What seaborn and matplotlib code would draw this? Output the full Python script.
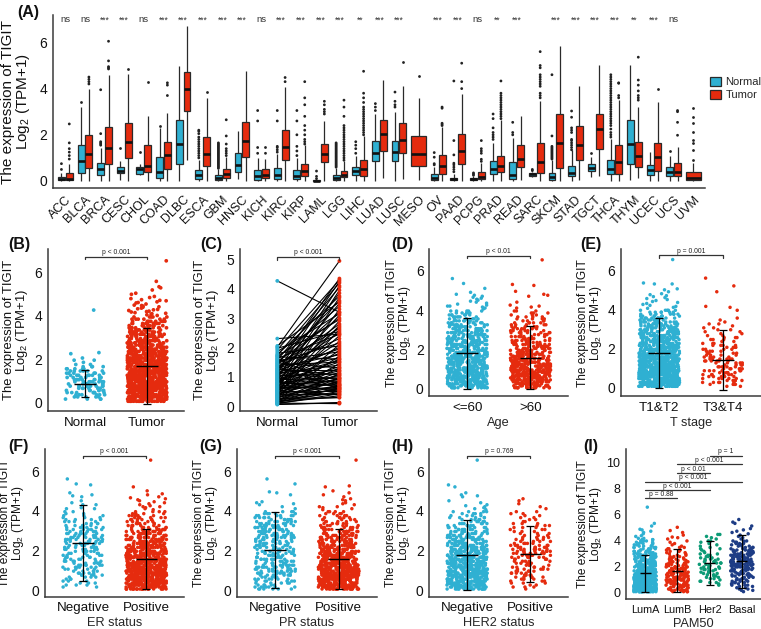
import numpy as np
import pandas as pd
import matplotlib
matplotlib.use("Agg")
import matplotlib.pyplot as plt
import seaborn as sns

sns.set_theme(style="white")
plt.rcParams["font.family"] = ["Liberation Sans", "DejaVu Sans"]
plt.rcParams["mathtext.default"] = "regular"
plt.rcParams["mathtext.fontset"] = "custom"
plt.rcParams["mathtext.rm"] = "Liberation Sans"

BLUE, RED, GREEN, NAVY = "#2FB0D2", "#E52B0E", "#0C9B76", "#1D3C85"
DARK = "#3A3A3A"

cancers = ["ACC","BLCA","BRCA","CESC","CHOL","COAD","DLBC","ESCA","GBM","HNSC","KICH",
           "KIRC","KIRP","LAML","LGG","LIHC","LUAD","LUSC","MESO","OV","PAAD","PCPG",
           "PRAD","READ","SARC","SKCM","STAD","TGCT","THCA","THYM","UCEC","UCS","UVM"]
signif = ["ns","ns","***","***","ns","***","***","***","***","***","ns","***","***","***","***",
          "**","***","***","","***","***","ns","**","***","","***","***","***","***","**","***","ns",""]

# five-number summaries (low whisker, q1, median, q3, high whisker)
normal_box = [
 [0,.03,.1,.17,.35],[0,.33,.87,1.55,3.2],[0,.27,.5,.8,1.45],[.05,.33,.45,.62,.85],[.25,.3,.5,.62,.75],
 [0,.13,.38,1.02,2.3],[0,.73,1.6,2.63,5.0],[0,.08,.25,.47,.9],[0,.03,.12,.25,.5],[.1,.37,.7,1.23,2.15],
 [0,.05,.2,.47,1.0],[0,.1,.25,.57,1.15],[0,.07,.2,.47,1.0],[0,0,.01,.03,.05],[0,.05,.12,.25,.55],
 [0,.25,.43,.62,1.1],[0,.88,1.2,1.72,2.9],[0,.87,1.27,1.73,3.0],None,[0,.04,.12,.29,.6],
 [0,.03,.07,.14,.3],[0,.03,.07,.12,.2],[0,.3,.5,.87,1.63],[0,.1,.26,.84,1.85],[.18,.22,.29,.35,.4],
 [0,.03,.16,.33,.9],[0,.22,.36,.65,1.34],[.19,.43,.55,.72,1.05],[0,.29,.5,.91,1.82],[.04,.75,1.59,2.64,5.03],
 [0,.26,.48,.69,1.27],[0,.22,.38,.62,1.08],None]
tumor_box = [
 [0,.03,.1,.33,.75],[0,.57,1.15,1.97,4.0],[0,.72,1.43,2.33,4.6],[0,1.0,1.68,2.5,4.65],[0,.37,.65,1.55,2.8],
 [0,.5,1.13,1.68,2.95],[.9,3.05,3.97,4.7,6.7],[0,.67,1.17,1.92,3.6],[0,.15,.3,.53,1.05],[0,1.03,1.72,2.57,4.75],
 [0,.12,.27,.53,.95],[0,.92,1.47,2.2,4.05],[0,.2,.43,.75,1.55],[0,.83,1.15,1.6,2.6],[0,.17,.28,.45,.85],
 [0,.22,.5,.93,1.95],[.15,1.32,2.02,2.63,4.37],[.09,1.23,1.78,2.5,4.1],[.04,.66,1.17,1.95,3.58],[0,.3,.65,1.11,2.35],
 [0,.72,1.3,2.04,3.77],[0,.09,.19,.38,.77],[0,.38,.66,1.08,2.64],[.03,.59,.95,1.57,2.82],[0,.36,.84,1.65,3.46],
 [0,.58,1.66,2.89,5.85],[.04,.9,1.56,2.37,4.11],[.22,1.37,2.24,2.89,5.03],[0,.32,.81,1.56,3.5],[.12,.62,1.1,1.7,3.22],
 [0,.45,1.05,1.66,3.4],[0,.2,.4,.79,1.49],[0,.03,.14,.38,.77]]
normal_out = [
 [.5,.75],[3.4],[1.55,1.6,1.65,1.7,2.05,3.95],[1.45],[1.25],[2.4],[],
 [1.0,1.1,1.2,1.3,1.4,1.5,1.6,1.7,1.8,1.9,2.05,2.15,2.2],
 [.55,.6,.65,.7,.75,.8,.85,.9,.95,1.0,1.05,1.1,1.15,1.2,1.25,1.3,1.35,1.4,1.45,1.5,1.55,1.6,1.65],[],
 [1.2,1.45,2.6,3.05],[1.25,1.35,1.45,1.5,2.6,3.05],[1.1,1.3,1.5,2.0,2.6,3.05],[.1,.2,.43],
 [.6,.65,.7,.75,.8,.85,.9,.95,1.0,1.05,1.1,1.15,1.2,1.25,1.3,1.35,1.4,1.45,1.5,1.55,1.6,1.65],
 [1.2,1.4,1.55,1.7],[3.05,3.2,3.35],[3.2,3.3,3.45,3.85],[],[.7,.75,1.03,1.23],
 [.4,.5,.6,.7,.77,1.13,1.75,4.33],[.25,.3,.35],[1.8,1.9,2.0,2.1,2.3,2.7,2.9],[2.0,2.1,2.54],[.45,.5],
 [.95,1.0,1.05,1.1,1.15,1.2,1.25,1.3,1.35,1.4,1.45,1.5,1.95,4.6],
 [1.35,1.45,1.55,1.65,1.75,1.8,2.1,2.2,2.3,2.76,3.03],[1.2],
 [1.9,2.0,2.1,2.25,2.4,2.5,2.6,2.7,2.8,2.9,3.0,3.1,3.2,3.3,3.4,3.5,3.6,3.7,3.8,3.9,4.0,4.1,4.2,4.3,4.4,4.5,4.6],
 [],[],[1.28],[]]
tumor_out = [
 [.95,1.1,1.25,1.4,1.65,2.47],[4.2,4.3,4.4,4.5],[4.85,4.9,4.95,5.2,6.05],[4.85],[4.3],[3.7,4.15,4.25],[],[3.85],
 [1.1,1.2,1.3,1.4,1.6,1.95,2.65],[],[1.2,1.45],[4.3,4.48],[1.6,1.7,1.8,2.0,2.2,2.4,2.8,3.3,3.6,4.3],
 [2.9,3.0,3.1,3.3,3.45],[.9,1.0,1.1,1.2,1.3,1.4,1.5,1.6,1.7,1.8,1.9,2.0,2.1,2.2,2.3,2.4,2.8,3.2,3.5],
 [2.0,2.1,2.2,2.3,2.4,2.5,2.6,2.7,2.8,2.9,3.0,3.1,3.2,3.4,3.6,3.8,4.75],[],[5.15],[4.55],[2.4,2.45,2.5,3.15,3.2],
 [4.0,4.3,5.1],[.85,.94,1.2,1.3,1.4,1.75],
 [2.7,2.8,2.9,3.0,3.1,3.2,3.3,3.4,3.5,3.6,3.7,3.8,4.33],[],
 [3.6,3.7,3.8,4.1,4.2,4.3,4.4,4.5,4.6,4.9,5.0,5.6],[],[],[],[3.6,3.7,4.23,4.25],
 [3.5,3.6,3.7,3.9,4.15,4.37,5.36],[4.0],[1.98,2.54,3.0,3.05],[.91,1.34,1.63,1.78,2.14,2.5,2.79,3.15]]

# histogram counts per 0.1 TPM bin read from each strip, plus individually read sparse tails
bin_width = 0.1
b_normal = [0,4,5,6,7,7,7,8,8,9,8,7,7,6,6,5,4,2,1,2,1,0,1]
b_normal_tail = [2.3,4.27]
b_tumor = [26,34,36,34,34,36,36,38,38,36,36,34,33,32,30,29,28,27,26,25,24,23,22,21,20,19,18,17,16,15,14,14,13,12,11,10,9,8,6,5]
b_tumor_tail = [4.02,4.05,4.08,4.1,4.12,4.15,4.18,4.2,4.22,4.25,4.28,4.3,4.33,4.36,4.4,4.42,4.45,4.48,4.5,4.55,4.6,4.62,4.65,4.7,4.72,4.75,4.8,4.85,4.9,5.0,5.05,5.2,5.3,5.35,5.6,6.55]
d_young = [16,20,20,20,20,22,22,22,22,22,21,21,20,20,20,19,19,19,18,18,17,16,16,15,15,14,14,13,12,12,11,11,10,9,8,7,6,6,5,5]
d_young_tail = [4.05,4.1,4.15,4.2,4.2,4.25,4.3,4.35,4.4,4.45,4.5,4.55,4.6,4.65,4.7,4.75,4.8,4.9,5.1,5.35,5.6]
d_old = [14,18,18,19,20,20,22,22,22,22,20,20,19,19,18,16,15,14,13,12,11,10,10,9,9,8,8,7,7,6,6,6,5,5,4,4,4,3,3,3]
d_old_tail = [4.1,4.15,4.2,4.25,4.4,4.7,4.75,4.8,4.95,5.25,5.3,6.55]
e_early = [26,32,32,30,32,32,34,34,34,33,33,32,32,30,30,28,28,26,26,24,24,22,22,20,20,18,18,16,15,14,13,12,12,11,10,9,8,7,6,5]
e_early_tail = [4.05,4.1,4.15,4.2,4.25,4.3,4.35,4.4,4.45,4.5,4.55,4.6,4.65,4.7,4.75,4.8,4.9,5.0,5.05,5.3,5.3,5.35,6.55]
e_late = [2,4,5,5,5,5,6,6,6,6,6,5,5,6,6,5,4,4,4,4,4,4,3,3,3,3,2,2,2,2,2,1,2,1,1,1]
e_late_tail = [3.95,4.1,4.15,4.9,5.2,5.6]
f_neg = [0,2,3,3,3,3,4,5,5,4,5,6,6,6,6,5,5,5,5,6,6,6,6,7,7,7,7,7,7,6,6,6,5,4,4,4,3,3,2,2]
f_neg_tail = [4.1,4.1,4.15,4.3,4.3,4.4,4.5,4.7,4.75,4.8,4.9,5.3,5.35,5.6]
f_pos = [24,30,30,30,30,30,32,32,32,32,31,29,28,26,25,24,22,21,20,19,18,17,16,15,15,14,13,12,12,11,10,8,7,6,6,6,6,5,5,4]
f_pos_tail = [4.05,4.1,4.15,4.2,4.2,4.25,4.3,4.35,4.4,4.45,4.5,4.55,4.6,4.65,4.7,4.8,4.85,5.0,5.2,6.55]
g_neg = [6,7,5,5,6,6,7,8,9,9,9,9,9,8,8,8,8,8,8,8,8,9,9,9,9,9,9,9,8,8,8,8,8,7,7,6,6,6,5,4]
g_neg_tail = [4.1,4.2,4.3,4.35,4.4,4.45,4.8,4.9,4.95,5.35,5.6]
g_pos = [20,26,26,26,28,28,28,30,30,30,28,26,25,24,23,21,20,19,18,17,16,15,14,13,12,11,10,10,10,9,8,7,6,6,5,5,5,4,4,4]
g_pos_tail = [4.05,4.1,4.15,4.2,4.2,4.3,4.35,4.4,4.5,4.55,4.6,4.7,4.8,4.9,5.0,5.2,5.25,6.55]
h_neg = [16,22,22,22,24,24,24,25,25,25,24,24,23,22,21,20,20,19,18,17,16,15,14,13,12,11,11,10,9,9,8,7,7,6,5,5,5,4,4,4]
h_neg_tail = [4.05,4.1,4.15,4.2,4.25,4.3,4.4,4.5,4.7,4.75,4.8,4.9,5.2,5.3,6.55]
h_pos = [1,3,2,3,3,4,5,5,5,5,5,5,4,5,5,5,6,7,7,8,7,6,6,5,4,4,4,3,3,3,3,3,3,3,2,2,2,2,2,2]
h_pos_tail = [4.1,4.2,4.35,4.5,4.6]
i_luma = [20,26,28,28,26,26,26,24,24,22,20,20,18,17,16,15,14,13,12,11,10,10,9,8,8,7,6,6,5,5,5,4,4,4,4,3,3,3,3,3,3,2]
i_luma_tail = [4.3,4.35,4.5,4.6,4.7,4.8,4.85,5.1,5.3,6.55]
i_lumb = [4,5,5,5,7,7,7,7,8,8,8,8,8,8,7,7,7,7,6,6,5,5,4,4,4,4,3,3,2,2,2,2,2,2,2,1,1,1,1,1]
i_lumb_tail = [4.1,4.2,4.25,4.4,4.6,4.75,5.0]
i_her2 = [0,0,0,0,0,1,1,2,2,1,2,2,2,2,2,3,3,3,3,2,3,2,3,3,2,3,2,2,2,2,1,1,1,2,1,1,1,1,1,2]
i_her2_tail = [4.1,4.2,4.3,4.45,4.45]
i_basal = [1,2,2,2,2,3,3,3,3,3,3,3,4,4,4,4,5,5,5,6,6,6,6,6,6,6,6,5,6,5,5,5,5,4,3,3,3,3,3,3]
i_basal_tail = [4.1,4.2,4.3,4.4,4.5,4.6,4.7,4.8,4.9,5.1,5.3,5.4,5.6]

normal_paired = [
 .05,.06,.08,.1,.1,.12,.13,.15,.17,.18,
 .2,.21,.23,.25,.26,.28,.3,.31,.33,.35,
 .36,.38,.39,.41,.43,.44,.46,.48,.49,.51,
 .53,.54,.56,.58,.6,.61,.63,.65,.66,.68,
 .7,.72,.73,.75,.77,.79,.8,.82,.84,.86,
 .88,.9,.91,.93,.95,.97,.99,1.01,1.03,1.05,
 1.07,1.09,1.11,1.13,1.15,1.17,1.19,1.21,1.23,1.25,
 1.27,1.29,1.31,1.34,1.36,1.38,1.4,1.43,1.45,1.47,
 1.5,1.52,1.55,1.57,1.6,1.62,1.65,1.68,1.7,1.73,
 1.75,1.8,1.86,1.92,1.97,2.01,2.05,2.3,4.27,.52]
tumor_paired = [
 .12,.1,.42,.08,.35,.62,.5,.72,.3,.95,
 1.1,.45,.6,1.45,.28,.85,2.1,.55,1.3,.7,
 1.7,.4,2.6,.95,.65,3.3,1.15,.5,1.9,.8,
 .38,2.4,1.05,.75,3.7,1.35,.6,2.9,.9,1.6,
 .55,1.2,3.95,.85,2.2,1.0,.7,3.1,1.5,.48,
 1.8,.95,2.7,1.25,4.1,.65,1.55,3.5,1.1,2.0,
 .78,2.5,1.4,3.85,1.65,.9,4.25,1.95,1.2,2.8,
 1.05,3.2,1.75,2.3,.58,4.35,1.5,2.65,3.6,1.3,
 2.15,3.0,1.85,4.05,.72,2.45,3.4,1.6,2.95,4.2,
 3.75,2.05,3.15,4.3,2.55,4.95,3.55,2.45,3.2,2.75]

W, H = 761, 629
fig = plt.figure(figsize=(W / 100, H / 100), dpi=100)


def make_axes(left, right, top, bottom, zero_px, px_per_unit):
    ax = fig.add_axes([left / W, 1 - bottom / H, (right - left) / W, (bottom - top) / H])
    ax.set_facecolor("white")
    ax.set_ylim((zero_px - bottom) / px_per_unit, (zero_px - top) / px_per_unit)
    for s in ["top", "right"]:
        ax.spines[s].set_visible(False)
    for s in ["left", "bottom"]:
        ax.spines[s].set_color(DARK)
        ax.spines[s].set_linewidth(1.1)
    ax.tick_params(axis="both", colors=DARK, length=2.5, width=0.9, pad=1.5, labelcolor="#111111")
    ax.grid(False)
    return ax


def ylabel(ax, left, right, text_right, size):
    ax.set_ylabel("The expression of TIGIT\nLog$_2$ (TPM+1)", fontsize=size, color="#111111", linespacing=0.95)
    ax.yaxis.set_label_coords((text_right - left) / (right - left), 0.5)


def expand(counts, tail):
    levels = (np.arange(len(counts)) + 0.5) * bin_width
    return list(np.repeat(levels, counts)) + list(tail)


def strip_panel(ax, names, groups, colors, stats, size, jit, xpad=0.6, tickfs=9.6):
    frame = pd.DataFrame({
        "group": [n for n, g in zip(names, groups) for _ in g],
        "value": [v for g in groups for v in g]})
    sns.stripplot(data=frame, x="group", y="value", hue="group", order=names, hue_order=names,
                  palette=colors, jitter=jit, size=size, linewidth=0, legend=False, ax=ax, zorder=2)
    ax.set_xlim(-xpad, len(names) - 1 + xpad)
    for i, (m, lo, hi) in enumerate(stats):
        ax.errorbar(i, m, yerr=[[m - lo], [hi - m]], color="black", lw=0.9, capsize=3, capthick=0.9, zorder=4)
        ax.hlines(m, i - 0.17, i + 0.17, color="black", lw=1.0, zorder=4)
    ax.set_xlabel("")
    ax.tick_params(axis="x", labelsize=tickfs)


def bracket(ax, x0, x1, y, text, drop=0.12, fs=4.9):
    ax.plot([x0, x0, x1, x1], [y - drop, y, y, y - drop], color="#333333", lw=0.9, clip_on=False, zorder=5)
    ax.text((x0 + x1) / 2, y + 0.03, text, ha="center", va="bottom", fontsize=fs, color="#222222", clip_on=False)


def panel_tag(x, y, tag):
    fig.text(x / W, 1 - y / H, tag, fontsize=11.5, fontweight="bold", va="center", ha="left", color="#111111")


# ---- Panel A
axA = make_axes(53, 705, 15, 188, 181, 23.1)
rows = []
for c, nb, tb in zip(cancers, normal_box, tumor_box):
    if nb is not None:
        rows += [(c, "Normal", v) for v in nb]
        rows += [(c, "Tumor", v) for v in tb]
paired_frame = pd.DataFrame(rows, columns=["cancer", "group", "value"])
solo_frame = pd.DataFrame([(c, "Tumor", v) for c, nb, tb in zip(cancers, normal_box, tumor_box)
                           if nb is None for v in tb], columns=["cancer", "group", "value"])
box_style = dict(whis=(0, 100), showfliers=False, showcaps=False, saturation=1, linewidth=0.9, linecolor="#2A2A2A",
                 medianprops={"linewidth": 1.9, "color": "#111111"})
sns.boxplot(data=paired_frame, x="cancer", y="value", hue="group", order=cancers, hue_order=["Normal", "Tumor"],
            palette=[BLUE, RED], width=0.8, gap=0.12, ax=axA, **box_style)
handles, labels = axA.get_legend_handles_labels()
sns.boxplot(data=solo_frame, x="cancer", y="value", order=cancers, color=RED, width=0.76, ax=axA, **box_style)

out_rows = [(c, "Normal", v) for c, nb, o in zip(cancers, normal_box, normal_out) if nb is not None for v in o]
out_rows += [(c, "Tumor", v) for c, nb, o in zip(cancers, normal_box, tumor_out) if nb is not None for v in o]
sns.stripplot(data=pd.DataFrame(out_rows, columns=["cancer", "group", "value"]), x="cancer", y="value", hue="group",
              order=cancers, hue_order=["Normal", "Tumor"], palette=["#222222", "#222222"], dodge=True, jitter=False,
              size=2.0, linewidth=0, legend=False, ax=axA)
solo_out = [(c, v) for c, nb, o in zip(cancers, normal_box, tumor_out) if nb is None for v in o]
sns.stripplot(data=pd.DataFrame(solo_out, columns=["cancer", "value"]), x="cancer", y="value", order=cancers,
              color="#222222", jitter=False, size=2.0, linewidth=0, ax=axA)
axA.set_xlim(-0.63, 32.6)
axA.set_xlabel("")
axA.set_yticks([0, 2, 4, 6])
axA.tick_params(axis="y", labelsize=10)
axA.tick_params(axis="x", labelsize=9)
for lab in axA.get_xticklabels():
    lab.set_rotation(45)
    lab.set_ha("right")
    lab.set_rotation_mode("anchor")
for i, s in enumerate(signif):
    axA.text(i, 6.97, s, ha="center", va="center", fontsize=6.8 if s == "ns" else 6.2, color="#333333")
ylabel(axA, 53, 705, 32, 11)
leg = axA.legend(handles, labels, loc="center left", bbox_to_anchor=(710 / W, 1 - 88.5 / H),
                 bbox_transform=fig.transFigure, frameon=False, fontsize=8, handlelength=1.0, handleheight=0.9,
                 labelspacing=0.2, handletextpad=0.4, borderpad=0, borderaxespad=0)

# ---- Panel B
axB = make_axes(47.7, 184.3, 249.3, 411, 402.3, 21.6)
strip_panel(axB, ["Normal", "Tumor"],
            [expand(b_normal, b_normal_tail), expand(b_tumor, b_tumor_tail)],
            [BLUE, RED], [(.87, .25, 1.48), (1.67, -.07, 3.43)], 2.7, 0.32)
axB.set_yticks([0, 2, 4, 6])
axB.tick_params(axis="y", labelsize=10)
ylabel(axB, 47.7, 184.3, 30, 9.4)
bracket(axB, 0, 1, 6.75, "p < 0.001")

# ---- Panel C
axC = make_axes(240, 376.7, 249.3, 411, 406, 29.3)
pair_ids = list(range(len(normal_paired)))
pair_frame = pd.DataFrame({"group": ["Normal"] * len(pair_ids) + ["Tumor"] * len(pair_ids),
                           "pos": [0] * len(pair_ids) + [1] * len(pair_ids),
                           "pair": pair_ids + pair_ids,
                           "value": normal_paired + tumor_paired})
sns.lineplot(data=pair_frame, x="pos", y="value", units="pair", estimator=None, color="black", lw=0.8,
             legend=False, ax=axC, zorder=2)
sns.scatterplot(data=pair_frame, x="pos", y="value", hue="group", palette=[BLUE, RED], s=7.5, linewidth=0,
                legend=False, ax=axC, zorder=3)
axC.set_xlim(-0.6, 1.6)
axC.set_xticks([0, 1])
axC.set_xticklabels(["Normal", "Tumor"])
axC.set_xlabel("")
axC.set_yticks([0, 1, 2, 3, 4, 5])
axC.tick_params(axis="y", labelsize=10)
axC.tick_params(axis="x", labelsize=9.6)
ylabel(axC, 240, 376.7, 221, 9.4)
bracket(axC, 0, 1, 5.09, "p < 0.001", drop=0.09)

# ---- Panel D
axD = make_axes(429.3, 568.3, 249.3, 396.3, 388.7, 19.67)
strip_panel(axD, ["<=60", ">60"], [expand(d_young, d_young_tail), expand(d_old, d_old_tail)],
            [BLUE, RED], [(1.8, 0, 3.6), (1.55, -.03, 3.17)], 2.5, 0.32)
axD.set_yticks([0, 2, 4, 6])
axD.tick_params(axis="y", labelsize=10)
axD.set_xlabel("Age", fontsize=9.2, labelpad=2)
ylabel(axD, 429.3, 568.3, 413, 8.6)
bracket(axD, 0, 1, 6.76, "p < 0.01")

# ---- Panel E
axE = make_axes(621, 761, 249.3, 396.3, 387.3, 19.5)
strip_panel(axE, ["T1&T2", "T3&T4"], [expand(e_early, e_early_tail), expand(e_late, e_late_tail)],
            [BLUE, RED], [(1.75, -.02, 3.53), (1.42, -.12, 2.96)], 2.5, 0.32)
axE.set_yticks([0, 2, 4, 6])
axE.tick_params(axis="y", labelsize=10)
axE.set_xlabel("T stage", fontsize=9.2, labelpad=2)
ylabel(axE, 621, 761, 604, 8.6)
bracket(axE, 0, 1, 6.76, "p = 0.001")

# ---- Panel F
axF = make_axes(45, 184.3, 449.3, 596.7, 590, 19.83)
strip_panel(axF, ["Negative", "Positive"], [expand(f_neg, f_neg_tail), expand(f_pos, f_pos_tail)],
            [BLUE, RED], [(2.38, .45, 4.31), (1.55, .03, 3.07)], 2.5, 0.32)
axF.set_yticks([0, 2, 4, 6])
axF.tick_params(axis="y", labelsize=10)
axF.set_xlabel("ER status", fontsize=9.2, labelpad=2)
ylabel(axF, 45, 184.3, 26, 8.6)
bracket(axF, 0, 1, 6.76, "p < 0.001")

# ---- Panel G
axG = make_axes(237, 376.7, 449.3, 596.7, 590, 19.83)
strip_panel(axG, ["Negative", "Positive"], [expand(g_neg, g_neg_tail), expand(g_pos, g_pos_tail)],
            [BLUE, RED], [(2.0, .12, 3.92), (1.56, .03, 3.1)], 2.5, 0.32)
axG.set_yticks([0, 2, 4, 6])
axG.tick_params(axis="y", labelsize=10)
axG.set_xlabel("PR status", fontsize=9.2, labelpad=2)
ylabel(axG, 237, 376.7, 220, 8.6)
bracket(axG, 0, 1, 6.76, "p < 0.001")

# ---- Panel H
axH = make_axes(429.3, 568.3, 449.3, 596.7, 590, 19.83)
strip_panel(axH, ["Negative", "Positive"], [expand(h_neg, h_neg_tail), expand(h_pos, h_pos_tail)],
            [BLUE, RED], [(1.76, 0, 3.52), (1.82, .4, 3.25)], 2.5, 0.32)
axH.set_yticks([0, 2, 4, 6])
axH.tick_params(axis="y", labelsize=10)
axH.set_xlabel("HER2 status", fontsize=9.2, labelpad=2)
ylabel(axH, 429.3, 568.3, 412, 8.6)
bracket(axH, 0, 1, 6.76, "p = 0.769")

# ---- Panel I
axI = make_axes(626, 761, 449.3, 599.3, 592.3, 13)
strip_panel(axI, ["LumA", "LumB", "Her2", "Basal"],
            [expand(i_luma, i_luma_tail), expand(i_lumb, i_lumb_tail), expand(i_her2, i_her2_tail), expand(i_basal, i_basal_tail)],
            [BLUE, RED, GREEN, NAVY],
            [(1.45, 0, 2.87), (1.65, 0, 3.33), (2.25, .6, 3.93), (2.37, .35, 4.4)], 2.5, 0.35, xpad=0.59, tickfs=7.8)
axI.set_yticks([0, 2, 4, 6, 8, 10])
axI.tick_params(axis="y", labelsize=9)
axI.set_xlabel("PAM50", fontsize=9.2, labelpad=2)
ylabel(axI, 626, 761, 604, 8.6)
for x0, x1, y, t in [(0, 1, 7.24, "p = 0.88"), (0, 2, 7.87, "p < 0.001"), (0, 3, 8.5, "p < 0.001"),
                     (1, 2, 9.18, "p < 0.01"), (1, 3, 9.85, "p < 0.001"), (2, 3, 10.5, "p = 1")]:
    bracket(axI, x0, x1, y, t, drop=0)

for x, y, tag in [(17, 12, "(A)"), (8, 245, "(B)"), (200, 245, "(C)"), (391, 245, "(D)"), (580, 245, "(E)"),
                  (8, 447, "(F)"), (199, 447, "(G)"), (391, 447, "(H)"), (583, 447, "(I)")]:
    panel_tag(x, y, tag)

fig.savefig("out.png", dpi=100, facecolor="white")
